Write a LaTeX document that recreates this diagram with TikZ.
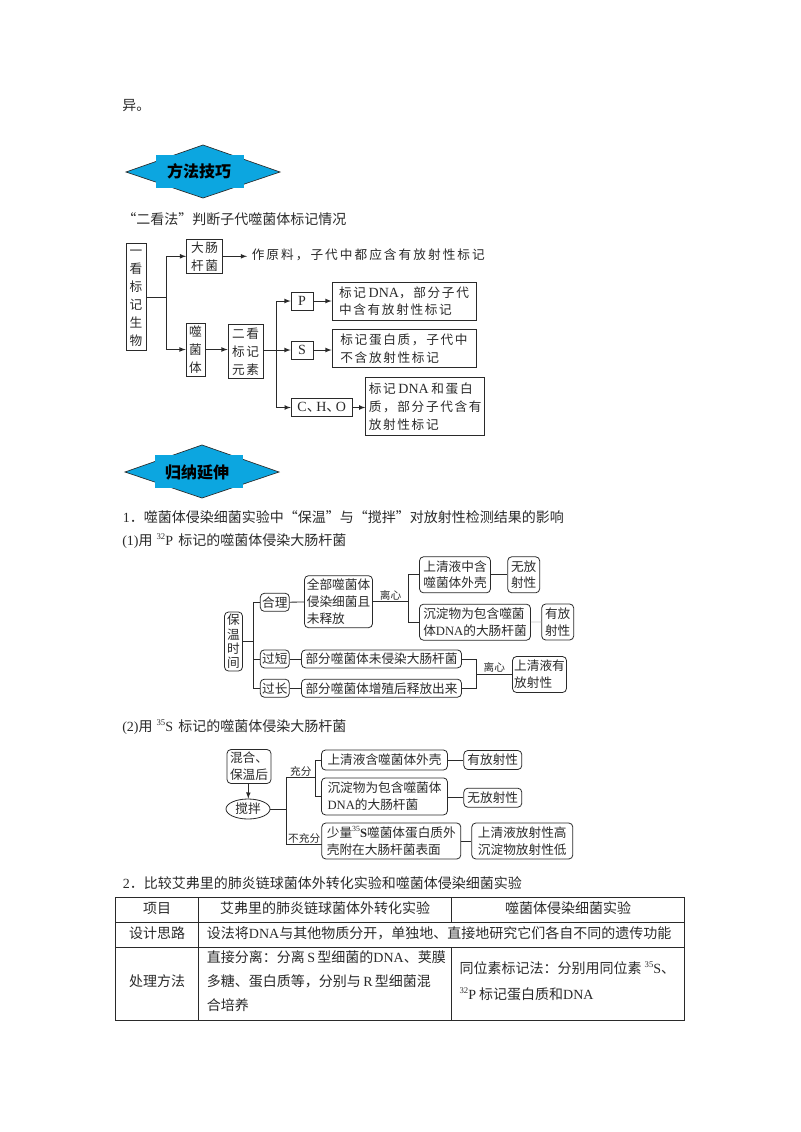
\documentclass[tikz,border=0pt]{standalone}
\usepackage{fontspec}
\usepackage{xcolor}
\usetikzlibrary{calc,positioning,shapes.geometric}
\setmainfont{Liberation Serif}
\newfontfamily\cjk{Noto Sans CJK SC}
\newfontfamily\cjkwide[LetterSpace=13]{Noto Sans CJK SC}
\newfontfamily\cjkwider[LetterSpace=16]{Noto Sans CJK SC}
\newcommand{\lat}[1]{{\rmfamily #1}}
\newcommand{\latb}[1]{{\rmfamily\fontsize{10.5}{13}\selectfont #1}}
\newcommand{\sups}[1]{\raisebox{0.8ex}{\rmfamily\scalebox{0.62}{#1}}}
\definecolor{bannerblue}{HTML}{0CA6E0}
\definecolor{inkgray}{HTML}{2A2A2A}
\tikzset{
	plaintext/.style={inner sep=0pt,anchor=west,text=inkgray,font=\cjk\fontsize{10.5}{14}\selectfont},
	boxsize/.style 2 args={minimum width=#1*0.75pt,minimum height=#2*0.75pt},
	tbox/.style={draw=inkgray,line width=0.6pt,inner sep=0pt,align=center,text=inkgray,font=\cjkwide\fontsize{9.5}{13.4}\selectfont},
	tboxl/.style={tbox,align=left},
	rbox/.style={draw=inkgray,line width=0.6pt,rounded corners=3pt,inner sep=0pt,align=left,text=inkgray,font=\cjk\fontsize{9.5}{12.5}\selectfont},
	lab/.style={inner sep=1pt,text=inkgray,font=\cjk\fontsize{8}{10}\selectfont},
	conn/.style={draw=inkgray,line width=0.6pt},
	arr/.style={conn,-latex},
	bannertext/.style={inner sep=0pt,text=black,font=\cjk\bfseries\fontsize{12}{14}\selectfont},
	cell/.style={inner sep=0pt,text=inkgray,font=\cjk\fontsize{10.5}{14}\selectfont},
	celll/.style={cell,anchor=west}
}
\begin{document}
\begin{tikzpicture}[x=0.75pt,y=-0.75pt]
	\useasboundingbox (0,0) rectangle (800,1132);
	% top text and first banner
	\node[plaintext] (yi) at (122,105.5) {异。};
	\draw[fill=bannerblue,draw=inkgray,line width=0.5pt] (126,172) -- (203,145) -- (280,172) -- (203,198) -- cycle;
	\fill[bannerblue] (156,155) rectangle (244,188);
	\node[bannertext] (fangfa) at (199,171.5) {方法技巧};
	\node[plaintext] (erkanfa) at (122,219) {“二看法”判断子代噬菌体标记情况};
	% first chart
	\node[tbox,boxsize={20}{100}] (yikan) at (136,297) {\strut 一\\看\\标\\记\\生\\物\strut};
	\node[tbox,boxsize={36}{34}] (dachang) at (204.5,256.3) {大肠\\杆菌};
	\node[plaintext,font=\cjkwider\fontsize{9.5}{13}\selectfont] (zuoyuan) at (251.5,255) {作原料，子代中都应含有放射性标记};
	\node[tbox,boxsize={19}{53}] (shijun) at (195.5,349.5) {噬\\菌\\体};
	\node[tbox,boxsize={35}{54}] (erkan) at (245.5,351) {\strut 二看\\标记\\元素};
	\node[tbox,boxsize={22}{18},font=\rmfamily\fontsize{10.5}{13}\selectfont] (nodeP) at (302,301) {P};
	\node[tbox,boxsize={22}{18},font=\rmfamily\fontsize{10.5}{13}\selectfont] (nodeS) at (302,350) {S};
	\node[tbox,boxsize={61}{18},font=\rmfamily\fontsize{10.5}{13}\selectfont] (nodeCHO) at (321.7,407.5) {C{\cjk、}\kern-3.4pt H{\cjk、}\kern-3.4pt O};
	\node[tboxl,boxsize={144}{38}] (textP) at (404,301.2) {标记\hspace{2pt}\latb{DNA}，部分子代\\中含有放射性标记};
	\node[tboxl,boxsize={144}{38}] (textS) at (404,348.5) {标记蛋白质，子代中\\不含放射性标记};
	\node[tboxl,boxsize={119}{58}] (textCHO) at (425.2,406.7) {标记\hspace{2pt}\latb{DNA}\hspace{2pt}和蛋白\\质，部分子代含有\\放射性标记};
	\coordinate (jyi) at (166,297);
	\coordinate (jer) at (276.7,350);
	\coordinate (zuotip) at (247,256.3);
	\draw[conn] (yikan) -- (jyi);
	\draw[arr] (jyi) |- (dachang);
	\draw[arr] (jyi) |- (shijun);
	\draw[arr] (dachang) -- (zuotip);
	\draw[arr] (shijun) -- (erkan.west |- shijun);
	\draw[conn] (erkan.east |- jer) -- (jer);
	\draw[arr] (jer) -- (nodeS);
	\draw[arr] (jer) |- (nodeP);
	\draw[arr] (jer) |- (nodeCHO);
	\draw[arr] (nodeP) -- (textP.west |- nodeP);
	\draw[arr] (nodeS) -- (textS.west |- nodeS);
	\draw[arr] (nodeCHO) -- (textCHO.west |- nodeCHO);
	% second banner and headings
	\draw[fill=bannerblue,draw=inkgray,line width=0.5pt] (125,472) -- (202,445) -- (279,472) -- (202,498) -- cycle;
	\fill[bannerblue] (155,455) rectangle (243,488);
	\node[bannertext] (guina) at (197,472) {归纳延伸};
	\node[plaintext] (headone) at (122.5,517) {\lat{1}．噬菌体侵染细菌实验中“保温”与“搅拌”对放射性检测结果的影响};
	\node[plaintext] (subone) at (122,541) {\lat{(1)}用\hspace{3pt}\sups{32}\lat{P}\hspace{4pt}标记的噬菌体侵染大肠杆菌};
	% second chart
	\node[rbox,align=center,boxsize={18}{59},font=\cjk\fontsize{9.5}{10.8}\selectfont] (baowen) at (233.5,641.5) {保\\温\\时\\间};
	\node[rbox,boxsize={29}{18}] (heli) at (274.8,602.3) {合理};
	\node[rbox,boxsize={68}{52}] (quanbu) at (338.5,601.7) {全部噬菌体\\侵染细菌且\\未释放};
	\node[rbox,boxsize={71}{36}] (shangone) at (455,574.8) {上清液中含\\噬菌体外壳};
	\node[rbox,boxsize={32}{36}] (wufang) at (523.7,574.8) {无放\\射性};
	\node[rbox,boxsize={111}{36}] (chendian) at (475,622.2) {沉淀物为包含噬菌\\体\lat{DNA}的大肠杆菌};
	\node[rbox,boxsize={32}{36}] (youfang) at (557.7,622) {有放\\射性};
	\node[rbox,boxsize={29}{18}] (guoduan) at (274.8,658.9) {过短};
	\node[rbox,boxsize={29}{18}] (guochang) at (274.8,688.2) {过长};
	\node[rbox,boxsize={160}{18}] (bufenone) at (381.5,658.9) {部分噬菌体未侵染大肠杆菌};
	\node[rbox,boxsize={160}{18}] (bufentwo) at (381.5,688.2) {部分噬菌体增殖后释放出来};
	\node[rbox,boxsize={54}{36}] (shangtwo) at (539.5,674.5) {上清液有\\放射性};
	\coordinate (jbao) at (253.3,641.5);
	\coordinate (jli) at (408.3,601.7);
	\coordinate (jfen) at (476.7,674.5);
	\draw[conn] (baowen) -- (jbao);
	\draw[conn] (jbao) |- (heli);
	\draw[conn] (jbao) |- (guoduan);
	\draw[conn] (jbao) |- (guochang);
	\draw[conn] (heli) -- (quanbu);
	\draw[conn] (quanbu.east) -- node[lab,above] (lixinone) {离心} (jli);
	\draw[conn] (jli) |- (shangone);
	\draw[conn] (jli) |- (chendian);
	\draw[conn] (shangone) -- (wufang);
	\draw[conn,draw=gray!45] (chendian) -- (youfang);
	\draw[conn] (guoduan) -- (bufenone);
	\draw[conn] (guochang) -- (bufentwo);
	\draw[conn] (bufenone) -| (jfen);
	\draw[conn] (bufentwo) -| (jfen);
	\draw[conn] (jfen) -- node[lab,above] (lixintwo) {离心} (shangtwo);
	% third chart
	\node[plaintext] (subtwo) at (122,727.5) {\lat{(2)}用\hspace{3pt}\sups{35}\lat{S}\hspace{4pt}标记的噬菌体侵染大肠杆菌};
	\node[rbox,align=center,boxsize={44}{34}] (hunhe) at (249,766.5) {混合、\\保温后};
	\node[draw=inkgray,line width=0.6pt,ellipse,inner sep=0pt,text=inkgray,font=\cjk\fontsize{9.5}{12.5}\selectfont,boxsize={44}{20}] (jiaoban) at (248,809) {搅拌};
	\node[rbox,boxsize={126}{20}] (shangthree) at (384.5,760) {上清液含噬菌体外壳};
	\node[rbox,boxsize={126}{37}] (chentwo) at (384.5,796.4) {沉淀物为包含噬菌体\\\lat{DNA}的大肠杆菌};
	\node[rbox,boxsize={58}{19}] (youshe) at (492.8,760) {有放射性};
	\node[rbox,boxsize={58}{19}] (wushe) at (492.8,797.7) {无放射性};
	\node[rbox,boxsize={139}{36}] (shaoliang) at (391.3,841) {少量\sups{35}\lat{\textbf{S}}噬菌体蛋白质外\\壳附在大肠杆菌表面};
	\node[rbox,boxsize={101}{36}] (gaodi) at (522.3,841) {上清液放射性高\\沉淀物放射性低};
	\coordinate (jjiao) at (286.7,809);
	\coordinate (jchong) at (315,777.7);
	\coordinate (jbu) at (321.7,844);
	\draw[arr] (hunhe) -- (jiaoban);
	\draw[conn] (jiaoban) -- (jjiao);
	\draw[conn] (jjiao) |- node[lab,above,pos=0.75] (chongfen) {充分} (jchong);
	\draw[conn] (jjiao) |- node[lab,above,pos=0.75,inner sep=0pt] (buchong) {不充分} (jbu);
	\draw[conn] (jchong) |- (shangthree);
	\draw[conn] (jchong) |- (chentwo);
	\draw[conn] (shangthree) -- (youshe);
	\draw[conn] (chentwo.east |- wushe) -- (wushe);
	\draw[conn] (shaoliang) -- (gaodi);
	% table
	\node[plaintext] (headtwo) at (122.5,882.7) {\lat{2}．比较艾弗里的肺炎链球菌体外转化实验和噬菌体侵染细菌实验};
	\draw[conn] (115.3,897.7) rectangle (684.3,1020.7);
	\draw[conn] (115.3,922.3) -- (684.3,922.3);
	\draw[conn] (115.3,947) -- (684.3,947);
	\draw[conn] (198.7,897.7) -- (198.7,1020.7);
	\draw[conn] (451.3,897.7) -- (451.3,922.3);
	\draw[conn] (451.3,947) -- (451.3,1020.7);
	\node[cell] (xiangmu) at (157,908.5) {项目};
	\node[cell] (aifuli) at (325,908.5) {艾弗里的肺炎链球菌体外转化实验};
	\node[cell] (shiyan) at (568,908.5) {噬菌体侵染细菌实验};
	\node[cell] (sheji) at (157,933.5) {设计思路};
	\node[celll] (shefa) at (206.7,933.5) {设法将\lat{DNA}与其他物质分开，单独地、直接地研究它们各自不同的遗传功能};
	\node[cell] (chuli) at (157,981) {处理方法};
	\node[celll] (zhijie) at (206.7,956.7) {直接分离：分离\,\lat{S}\,型细菌的\lat{DNA}、荚膜};
	\node[celll] (duotang) at (206.7,981) {多糖、蛋白质等，分别与\,\lat{R}\,型细菌混};
	\node[celll] (hepei) at (206.7,1005) {合培养};
	\node[celll] (tongwei) at (459.3,968) {同位素标记法：分别用同位素 \sups{35}\lat{S}、};
	\node[celll] (biaoji) at (459.3,994) {\sups{32}\lat{P} 标记蛋白质和\lat{DNA}};
\end{tikzpicture}
\end{document}
